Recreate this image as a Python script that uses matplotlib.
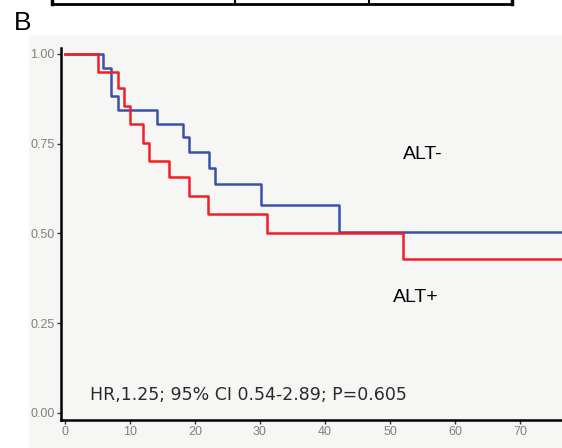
import matplotlib
matplotlib.use("Agg")
import matplotlib.pyplot as plt
from matplotlib.lines import Line2D
from matplotlib.patches import Rectangle

# Kaplan-Meier steps
alt_neg_time = [0, 5.9, 7.1, 8.1, 14.1, 18.2, 19.1, 22.1, 23.1, 30.2, 42.2, 78]
alt_neg_surv = [1.0, 0.96, 0.883, 0.844, 0.805, 0.768, 0.728, 0.683, 0.637, 0.579, 0.505, 0.505]
alt_pos_time = [0, 5.1, 8.1, 9.1, 10.0, 12.05, 13.0, 16.0, 19.1, 22.0, 31.1, 52.0, 78]
alt_pos_surv = [1.0, 0.949, 0.904, 0.856, 0.805, 0.753, 0.703, 0.656, 0.604, 0.554, 0.502, 0.429, 0.429]

x_ticks = [0, 10, 20, 30, 40, 50, 60, 70]
y_ticks = [0.0, 0.25, 0.5, 0.75, 1.0]
stats_text = "HR,1.25; 95% CI 0.54-2.89; P=0.605"

panel = "#f6f7f5"
plt.rcParams["font.family"] = ["Liberation Sans", "DejaVu Sans"]

fig = plt.figure(figsize=(5.62, 4.48), dpi=100)

# gray panel behind the plot
fig.patches.append(Rectangle((29 / 562, 0), 1, (448 - 35) / 448,
                             transform=fig.transFigure, color=panel, zorder=-5))

# bottom of the table from panel A
y_tab = 1 - 4 / 448
fig.lines.append(Line2D([52 / 562, 512 / 562], [y_tab, y_tab], transform=fig.transFigure,
                        color="black", lw=2))
for xp in [52, 235, 369, 512]:
    fig.lines.append(Line2D([xp / 562, xp / 562], [y_tab, 1.0], transform=fig.transFigure,
                            color="black", lw=1.5 if xp not in (52, 512) else 2.5))

fig.text(14 / 562, 1 - 23.5 / 448, "B", fontsize=19, va="center", ha="left")

ax = fig.add_axes([60.7 / 562, 28 / 448, (562 - 60.7) / 562, (448 - 28 - 36) / 448])
ax.set_facecolor(panel)
ax.set_zorder(2)

ax.step(alt_neg_time, alt_neg_surv, where="post", color="#3a4fb0", lw=1.8)
ax.step(alt_pos_time, alt_pos_surv, where="post", color="#f21f26", lw=1.8)

ax.set_xlim(-0.66, 76.46)
ax.set_ylim(-0.0195, 1.050)

for s in ["top", "right"]:
    ax.spines[s].set_visible(False)
ax.spines["left"].set_linewidth(1.8)
ax.spines["bottom"].set_linewidth(1.8)
ax.spines["left"].set_bounds(-0.0195, 1.017)

ax.set_xticks(x_ticks)
ax.set_yticks(y_ticks)
ax.set_yticklabels([f"{v:.2f}" for v in y_ticks])
ax.tick_params(axis="both", length=3, width=1, color="#333333", labelcolor="#808080",
               labelsize=9, pad=1.5)

ax.text(55.0, 0.719, "ALT-", fontsize=14, ha="center", va="center")
ax.text(53.9, 0.323, "ALT+", fontsize=14, ha="center", va="center")
ax.text(3.9, 0.050, stats_text, fontsize=12.5, ha="left", va="center", color="#2a2a2a",
        family="DejaVu Sans")

fig.savefig("out.png", dpi=100)
